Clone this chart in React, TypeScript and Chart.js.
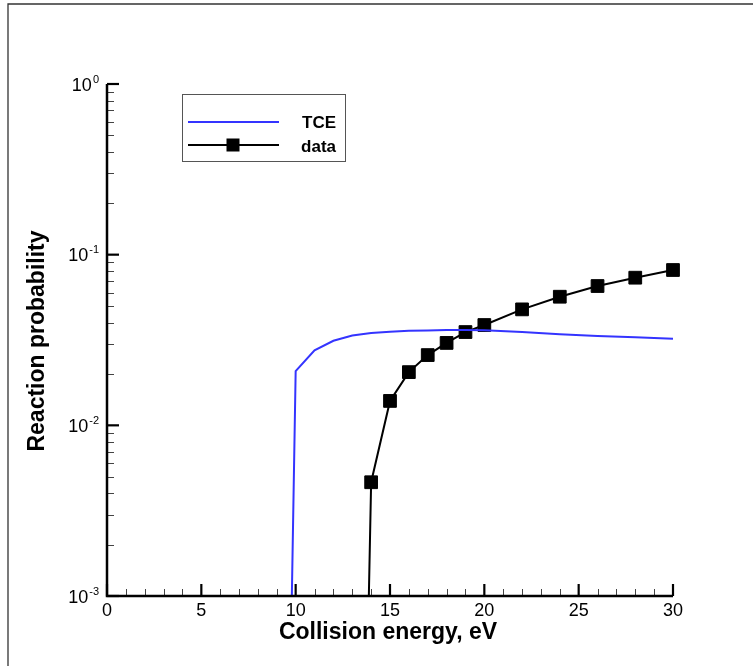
import React, { useEffect, useRef } from "react";
import { Chart, registerables } from "chart.js";

Chart.register(...registerables);

// ---- data ----
const tceEnergy = [9.79, 10, 11, 12, 13, 14, 15, 16, 17, 18, 19, 20, 22, 24, 26, 28, 30];
const tceProb = [0.0009, 0.0208, 0.0275, 0.0313, 0.0336, 0.0347, 0.0353, 0.0358, 0.036, 0.0362, 0.0362, 0.0361, 0.0352, 0.0342, 0.0334, 0.0328, 0.0322];

const dataEnergy = [13.87, 14, 15, 16, 17, 18, 19, 20, 22, 24, 26, 28, 30];
const dataProb = [0.0009, 0.00464, 0.0139, 0.0205, 0.0258, 0.0304, 0.0352, 0.0387, 0.0478, 0.0567, 0.0655, 0.0733, 0.0813];

const xTickValues = [0, 5, 10, 15, 20, 25, 30];
const xMinorStep = 1;
const yTickExponents = [0, -1, -2, -3];

const xTitle = "Collision energy, eV";
const yTitle = "Reaction probability";
const legendLabels = ["TCE", "data"];

const BLUE = "#3434ff";
const FONT = "'Liberation Sans', Arial, Helvetica, sans-serif";

const decor = {
  id: "decor",
  beforeDraw(chart: any) {
    const ctx = chart.ctx;
    ctx.save();
    ctx.fillStyle = "#fff";
    ctx.fillRect(0, 0, chart.width, chart.height);
    ctx.strokeStyle = "#333";
    ctx.lineWidth = 1.3;
    ctx.beginPath();
    ctx.moveTo(8, chart.height + 2);
    ctx.lineTo(8, 4);
    ctx.lineTo(chart.width + 2, 4);
    ctx.stroke();
    ctx.restore();
  },
  afterDatasetsDraw(chart: any) {
    const ctx = chart.ctx;
    const xs = chart.scales.x;
    const ys = chart.scales.y;
    const a = chart.chartArea;
    ctx.save();

    // minor x ticks
    ctx.strokeStyle = "#444";
    ctx.lineWidth = 1;
    for (let v = xs.min; v <= xs.max; v += xMinorStep) {
      if (xTickValues.includes(v)) continue;
      const px = Math.round(xs.getPixelForValue(v)) + 0.5;
      ctx.beginPath();
      ctx.moveTo(px, a.bottom);
      ctx.lineTo(px, a.bottom - 7);
      ctx.stroke();
    }
    // minor y ticks
    for (let e = -3; e < 0; e++) {
      for (let k = 2; k <= 9; k++) {
        const py = Math.round(ys.getPixelForValue(k * Math.pow(10, e))) + 0.5;
        ctx.beginPath();
        ctx.moveTo(a.left, py);
        ctx.lineTo(a.left + 7, py);
        ctx.stroke();
      }
    }
    // major ticks
    ctx.strokeStyle = "#000";
    ctx.lineWidth = 2.2;
    xTickValues.forEach((v) => {
      const px = xs.getPixelForValue(v);
      ctx.beginPath();
      ctx.moveTo(px, a.bottom);
      ctx.lineTo(px, a.bottom - 12);
      ctx.stroke();
    });
    yTickExponents.forEach((e) => {
      const py = ys.getPixelForValue(Math.pow(10, e));
      ctx.beginPath();
      ctx.moveTo(a.left, py);
      ctx.lineTo(a.left + 12, py);
      ctx.stroke();
    });

    // axis lines
    ctx.lineWidth = 2.5;
    ctx.beginPath();
    ctx.moveTo(a.left, a.top);
    ctx.lineTo(a.left, a.bottom);
    ctx.lineTo(a.right, a.bottom);
    ctx.stroke();

    // x tick labels
    ctx.fillStyle = "#000";
    ctx.font = `18px ${FONT}`;
    ctx.textAlign = "center";
    ctx.textBaseline = "alphabetic";
    xTickValues.forEach((v) => {
      ctx.fillText(String(v), xs.getPixelForValue(v), a.bottom + 20);
    });

    // y tick labels 10^e
    yTickExponents.forEach((e) => {
      const py = ys.getPixelForValue(Math.pow(10, e));
      ctx.font = `18px ${FONT}`;
      const wBase = ctx.measureText("10").width;
      ctx.font = `11px ${FONT}`;
      const expStr = e === 0 ? "0" : "-" + String(-e);
      const wExp = ctx.measureText(expStr).width;
      const right = a.left - 8;
      const start = right - wBase - wExp - 1;
      ctx.textAlign = "left";
      ctx.font = `18px ${FONT}`;
      ctx.fillText("10", start, py + 6.5);
      ctx.font = `11px ${FONT}`;
      ctx.fillText(expStr, start + wBase + 1, py - 1.5);
    });

    // axis titles
    ctx.font = `bold 23px ${FONT}`;
    ctx.textAlign = "center";
    ctx.fillText(xTitle, (a.left + a.right) / 2 - 2, a.bottom + 43);
    ctx.save();
    ctx.translate(44, (a.top + a.bottom) / 2 + 1);
    ctx.rotate(-Math.PI / 2);
    ctx.fillText(yTitle, 0, 0);
    ctx.restore();

    // legend
    const lx = 182.5, ly = 94.5, lw = 163, lh = 67;
    ctx.fillStyle = "#fff";
    ctx.fillRect(lx, ly, lw, lh);
    ctx.strokeStyle = "#555";
    ctx.lineWidth = 1;
    ctx.strokeRect(lx, ly, lw, lh);
    ctx.lineWidth = 2;
    ctx.strokeStyle = BLUE;
    ctx.beginPath();
    ctx.moveTo(188, 122);
    ctx.lineTo(279, 122);
    ctx.stroke();
    ctx.strokeStyle = "#000";
    ctx.beginPath();
    ctx.moveTo(188, 145);
    ctx.lineTo(279, 145);
    ctx.stroke();
    ctx.fillStyle = "#000";
    ctx.fillRect(233 - 6.5, 145 - 6.5, 13, 13);
    ctx.font = `bold 17px ${FONT}`;
    ctx.textAlign = "right";
    ctx.fillText(legendLabels[0], 336, 127.5);
    ctx.fillText(legendLabels[1], 336, 152);

    ctx.restore();
  },
};

export default function App() {
  const ref = useRef<HTMLCanvasElement>(null);
  useEffect(() => {
    const canvas = ref.current!;
    const clip = { left: 12, right: 12, top: 12, bottom: 0 };
    const chart = new Chart(canvas, {
      type: "line",
      data: {
        datasets: [
          {
            label: legendLabels[0],
            data: tceEnergy.map((x, i) => ({ x, y: tceProb[i] })),
            borderColor: BLUE,
            backgroundColor: BLUE,
            borderWidth: 2,
            pointRadius: 0,
            fill: false,
            tension: 0,
            clip: clip as any,
          },
          {
            label: legendLabels[1],
            data: dataEnergy.map((x, i) => ({ x, y: dataProb[i] })),
            borderColor: "#000",
            backgroundColor: "#000",
            borderWidth: 2,
            pointStyle: "rect",
            pointRadius: dataEnergy.map((_, i) => (i === 0 ? 0 : 9)),
            pointBorderWidth: 1,
            pointBorderColor: "#000",
            pointBackgroundColor: "#000",
            fill: false,
            tension: 0,
            clip: clip as any,
          },
        ],
      },
      options: {
        responsive: false,
        animation: false,
        layout: { padding: { left: 107, top: 84, right: 80, bottom: 70 } },
        scales: {
          x: { type: "linear", min: 0, max: 30, display: false },
          y: { type: "logarithmic", min: 0.001, max: 1, display: false },
        },
        plugins: {
          legend: { display: false },
          tooltip: { enabled: false },
        },
      },
      plugins: [decor],
    });
    return () => chart.destroy();
  }, []);

  return (
    <div style={{ position: "fixed", left: 0, top: 0, width: 753, height: 666, background: "#fff" }}>
      <canvas ref={ref} width={753} height={666} style={{ display: "block" }} />
    </div>
  );
}
